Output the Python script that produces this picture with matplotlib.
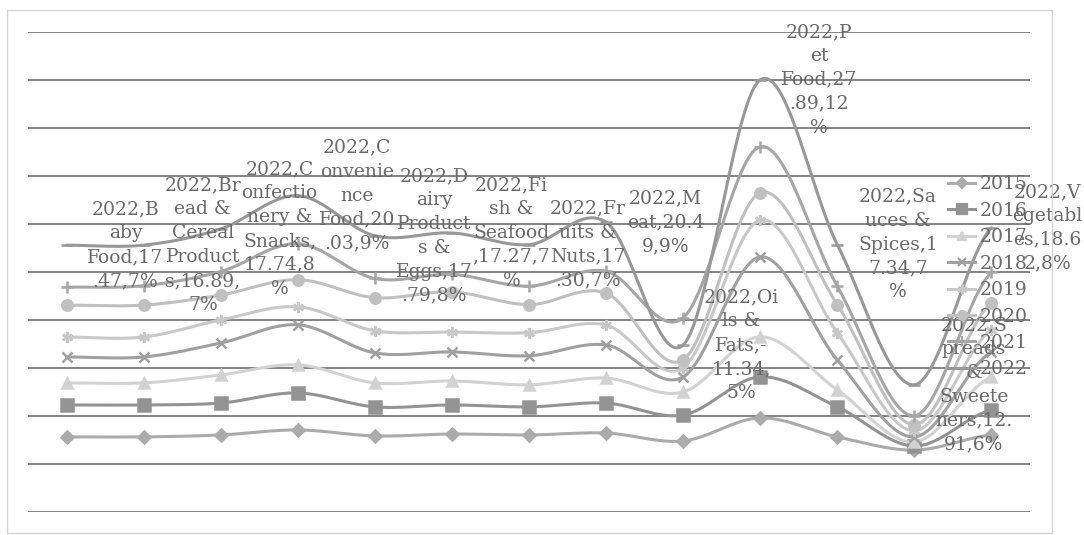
import numpy as np
import matplotlib
matplotlib.use("Agg")
import matplotlib.pyplot as plt
from matplotlib.patches import Rectangle

plt.rcParams['font.family'] = ['DejaVu Serif']

categories = ["Baby Food", "Bread & Cereal Products", "Confectionery & Snacks",
              "Convenience Food", "Dairy Products & Eggs", "Fish & Seafood",
              "Fruits & Nuts", "Meat", "Oils & Fats", "Pet Food",
              "Sauces & Spices", "Spreads & Sweeteners", "Vegetables"]
years = ["2015", "2016", "2017", "2018", "2019", "2020", "2021", "2022"]

# stacked series (each year's own value)
y2015 = [31.3, 31.3, 32.1, 34.2, 31.7, 32.5, 32.1, 32.9, 29.6, 39.2, 31.3, 25.8, 32.1]
y2016 = [13.3, 13.3, 13.3, 15.4, 12.1, 12.1, 11.7, 12.5, 10.8, 17.1, 12.5, 1.7, 10.4]
y2017 = [9.2, 9.2, 11.7, 11.7, 10.0, 10.0, 9.2, 10.4, 9.6, 16.7, 7.1, 1.7, 13.8]
y2018 = [10.8, 10.8, 13.3, 16.7, 12.5, 12.1, 12.1, 13.8, 6.3, 33.3, 12.5, 2.1, 10.4]
y2019 = [8.3, 8.3, 9.6, 7.5, 9.2, 8.3, 9.6, 8.3, 3.8, 15.4, 11.3, 2.5, 9.2]
y2020 = [13.3, 13.3, 10.4, 11.3, 13.8, 16.7, 11.7, 13.3, 3.3, 11.3, 11.7, 2.5, 11.3]
y2021 = [7.5, 8.1, 9.8, 15.0, 8.0, 7.3, 7.7, 9.1, 17.5, 19.2, 7.7, 3.8, 12.6]
y2022 = [17.47, 16.89, 17.74, 20.03, 17.79, 17.27, 17.30, 20.49, -11.34, 27.89, 17.34, 12.91, 18.62]
pct_2022 = [7, 7, 8, 9, 8, 7, 7, 9, 5, 12, 7, 6, 8]

# data labels of the 2022 series, wrapped as in the original
labels_2022 = [
    "2022,B\naby\nFood,17\n.47,7%",
    "2022,Br\nead &\nCereal\nProduct\ns,16.89,\n7%",
    "2022,C\nonfectio\nnery &\nSnacks,\n17.74,8\n%",
    "2022,C\nonvenie\nnce\nFood,20\n.03,9%",
    "2022,D\nairy\nProduct\ns &\nEggs,17\n.79,8%",
    "2022,Fi\nsh &\nSeafood\n,17.27,7\n%",
    "2022,Fr\nuits &\nNuts,17\n.30,7%",
    "2022,M\neat,20.4\n9,9%",
    "2022,Oi\nls &\nFats,-\n11.34,\n5%",
    "2022,P\net\nFood,27\n.89,12\n%",
    "2022,Sa\nuces &\nSpices,1\n7.34,7\n%",
    "2022,S\npreads\n&\nSweete\nners,12.\n91,6%",
    "2022,V\negetabl\nes,18.6\n2,8%",
]

series = [y2015, y2016, y2017, y2018, y2019, y2020, y2021, y2022]
colors = ['#ababab', '#939393', '#d2d2d2', '#a0a0a0', '#c8c8c8', '#c0c0c0', '#a6a6a6', '#989898']
markers = ['D', 's', '^', 'x', (6, 2, 0), 'o', '+', '_']
msizes = [6.5, 8.5, 7.5, 7, 8, 7.5, 8, 8]


def smooth(y, n=30):
    # excel-like smoothed line: bezier with catmull-rom control points
    xs, ys = [], []
    for i in range(len(y) - 1):
        p0 = y[i - 1] if i > 0 else y[i]
        p3 = y[i + 2] if i + 2 < len(y) else y[i + 1]
        c1 = y[i] + (y[i + 1] - p0) / 6.0
        c2 = y[i + 1] - (p3 - y[i]) / 6.0
        t = np.linspace(0, 1, n)
        b = (1 - t) ** 3 * y[i] + 3 * (1 - t) ** 2 * t * c1 + 3 * (1 - t) * t ** 2 * c2 + t ** 3 * y[i + 1]
        xs.extend(i + t)
        ys.extend(b)
    return np.array(xs), np.array(ys)


fig = plt.figure(figsize=(10.84, 5.35), dpi=100)
fig.patches.append(Rectangle((7 / 1084, 1 - 533 / 535), 1045 / 1084, 523 / 535,
                             transform=fig.transFigure, fill=False, ec='#d4d4d4', lw=1))
ax = fig.add_axes([28 / 1084, 1 - 512 / 535, 1002 / 1084, 480 / 535])

x = np.arange(len(categories))
cum = np.cumsum(np.array(series), axis=0)
for i, yr in enumerate(years):
    sx, sy = smooth(cum[i])
    ax.plot(sx, sy, color=colors[i], lw=2.2, zorder=3 + i * 0.1, solid_capstyle='round')
    ax.plot(x, cum[i], linestyle='none', marker=markers[i], ms=msizes[i], color=colors[i],
            mec=colors[i], mew=1.8, zorder=3.05 + i * 0.1)
    ax.plot([], [], color=colors[i], lw=2.2, marker=markers[i], ms=msizes[i] * 0.85,
            mec=colors[i], mew=1.6, label=yr)

for j, txt in enumerate(labels_2022):
    ax.annotate(txt, (x[j], cum[-1][j]), xytext=(15, 0), textcoords='offset points',
                ha='left', va='center', multialignment='center', fontsize=13.5,
                color='#6a6a6a', linespacing=1.42, zorder=10)

ax.set_xlim(-0.5, len(categories) - 0.5)
ax.set_ylim(0, 200)
ax.set_yticks(np.arange(0, 201, 20))
ax.set_xticks(x)
ax.set_xticklabels(categories)
ax.grid(axis='y', color='#6e6e6e', lw=1.2, zorder=1)
ax.tick_params(length=0, labelleft=False, labelbottom=False)
for s in ax.spines.values():
    s.set_visible(False)

leg = ax.legend(loc='upper left', bbox_to_anchor=(939 / 1084, 1 - 166 / 535),
                bbox_transform=fig.transFigure, frameon=False, fontsize=13.5,
                labelspacing=0.45, handlelength=1.4, handletextpad=0.25, borderpad=0)
for t in leg.get_texts():
    t.set_color('#6a6a6a')
leg.set_zorder(12)

fig.savefig("out.png", dpi=100)
